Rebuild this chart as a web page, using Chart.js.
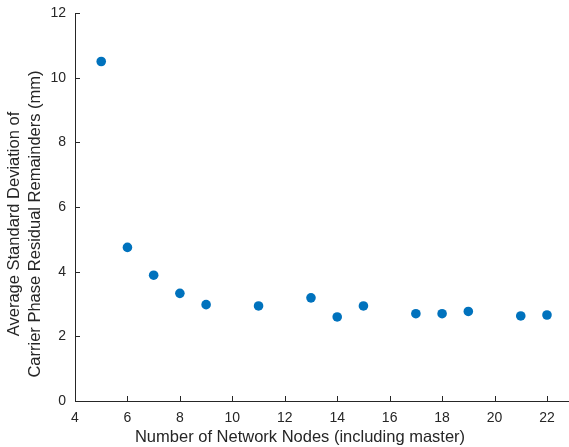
<!DOCTYPE html>
<html>
<head>
<meta charset="utf-8">
<script src="https://cdn.jsdelivr.net/npm/chart.js@4"></script>
<style>
  html, body { margin: 0; padding: 0; background: #fff; }
  canvas { display: block; }
</style>
</head>
<body>
<canvas id="nodesChart" width="569" height="447"></canvas>
<script>
/******* data ******/
var nodeCounts = [5, 6, 7, 8, 9, 11, 13, 14, 15, 17, 18, 19, 21, 22];
var avgStdDev = [10.5, 4.75, 3.89, 3.33, 2.98, 2.94, 3.19, 2.6, 2.94, 2.7, 2.7, 2.77, 2.63, 2.66];
var xTicks = [4, 6, 8, 10, 12, 14, 16, 18, 20, 22];
var yTicks = [0, 2, 4, 6, 8, 10, 12];
var xTitle = 'Number of Network Nodes (including master)';
var yTitle = ['Average Standard Deviation of', 'Carrier Phase Residual Remainders (mm)'];

var axisColor = '#262626';
var fontFamily = '"Liberation Sans", Arial, Helvetica, sans-serif';

var points = nodeCounts.map(function (n, i) { return { x: n, y: avgStdDev[i] }; });

// matlab style ticks pointing inside the axes + the axis labels
var inwardTicks = {
  id: 'inwardTicks',
  afterDraw: function (chart) {
    var c = chart.ctx, xs = chart.scales.x, ys = chart.scales.y;
    var area = chart.chartArea;
    c.save();
    c.strokeStyle = axisColor;
    c.lineWidth = 1;
    c.beginPath();
    xTicks.forEach(function (v) {
      var px = Math.round(xs.getPixelForValue(v)) + 0.5;
      c.moveTo(px, area.bottom);
      c.lineTo(px, area.bottom - 5);
    });
    yTicks.forEach(function (v) {
      var py = Math.round(ys.getPixelForValue(v)) + 0.5;
      c.moveTo(area.left, py);
      c.lineTo(area.left + 5, py);
    });
    c.stroke();

    c.fillStyle = axisColor;
    c.font = '16.5px ' + fontFamily;
    c.textAlign = 'center';
    c.textBaseline = 'middle';
    c.fillText(xTitle, 300, 437);

    c.translate(0, 224);
    c.rotate(-Math.PI / 2);
    c.fillText(yTitle[0], 0, 14);
    c.fillText(yTitle[1], 0, 35);
    c.restore();
  }
};

var ctx = document.getElementById('nodesChart');
var nodesChart = new Chart(ctx, {
  type: 'scatter',
  data: {
    datasets: [{
      data: points,
      backgroundColor: '#0072BD',
      borderColor: '#0072BD',
      borderWidth: 0,
      pointRadius: 4.8,
      pointHoverRadius: 4.8
    }]
  },
  options: {
    responsive: false,
    animation: false,
    layout: { autoPadding: false, padding: { top: 13, right: 0, left: 0, bottom: 0 } },
    plugins: { legend: { display: false }, tooltip: { enabled: false } },
    scales: {
      x: {
        type: 'linear',
        min: 4,
        max: 22.84,
        afterBuildTicks: function (s) { s.ticks = xTicks.map(function (v) { return { value: v }; }); },
        afterFit: function (s) {
          s.height = 46;
          s.paddingLeft = 0; s.paddingRight = 0;
        },
        grid: { display: false, drawTicks: false },
        border: { display: true, color: axisColor, width: 1 },
        ticks: {
          color: axisColor,
          font: { family: fontFamily, size: 14 },
          padding: 9,
          maxRotation: 0,
          autoSkip: false
        }
      },
      y: {
        type: 'linear',
        min: 0,
        max: 12,
        afterBuildTicks: function (s) { s.ticks = yTicks.map(function (v) { return { value: v }; }); },
        afterFit: function (s) {
          s.width = 75;
          s.paddingTop = 0; s.paddingBottom = 0;
        },
        grid: { display: false, drawTicks: false },
        border: { display: true, color: axisColor, width: 1 },
        ticks: {
          color: axisColor,
          font: { family: fontFamily, size: 14 },
          padding: 9
        }
      }
    }
  },
  plugins: [inwardTicks]
});
</script>
</body>
</html>
